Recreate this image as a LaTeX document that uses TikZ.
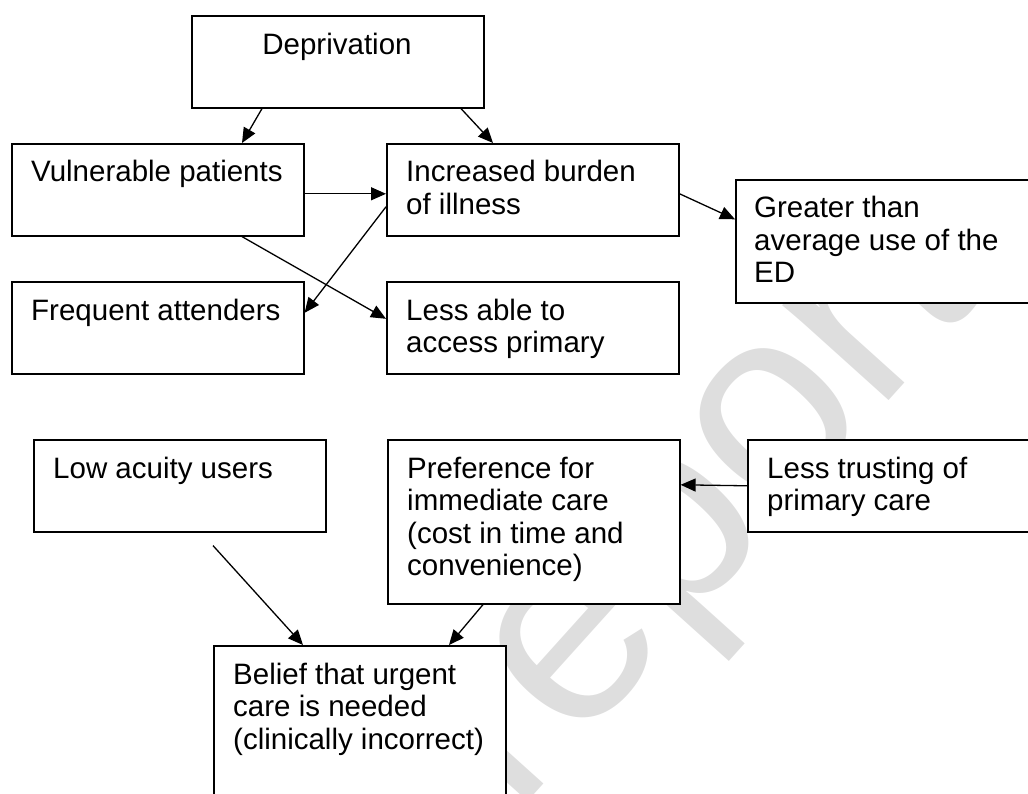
\documentclass[tikz,border=0pt]{standalone}
\usepackage{fontspec}
\setmainfont{Liberation Sans}
\usetikzlibrary{arrows.meta}
\newcommand{\boxlines}[1]{\begin{tabular}[t]{@{}l@{}}#1\end{tabular}}
\begin{document}
\begin{tikzpicture}[x=1pt,y=-1pt,
  box/.style={draw, line width=1.6pt, fill=white, rectangle, inner sep=0pt,
    minimum width=292pt, minimum height=92pt, anchor=north west},
  lbl/.style={anchor=base west, inner sep=0pt,
    font=\fontsize{29.5}{32.5}\selectfont},
  arr/.style={line width=1.3pt, -{Triangle[length=15pt,width=13pt]}},
  watermark/.style={anchor=base west, inner sep=0pt, text=black!13,
    font=\fontsize{270}{270}\selectfont, rotate=48}]
\useasboundingbox (0,0) rectangle (1028,794);
\begin{scope}
\clip (0,0) rectangle (1028,794);
\node[watermark] (wm) at (515,816) {report};
\node[box] (dep) at (191,15) {};
\node[box] (vul) at (11,143) {};
\node[box] (inc) at (386,143) {};
\node[box, minimum width=310pt, minimum height=123pt] (gre) at (735,179) {};
\node[box] (fre) at (11,281) {};
\node[box] (les) at (386,281) {};
\node[box] (low) at (33,439) {};
\node[box, minimum height=164pt] (pre) at (387,439) {};
\node[box, minimum width=310pt] (tru) at (747,439) {};
\node[box, minimum height=200pt] (bel) at (213,645) {};

\node[lbl, anchor=base] (tdep) at (337,55) {Deprivation};
\node[lbl] (tvul) at (31,182) {Vulnerable patients};
\node[lbl] (tinc) at (406,182) {\boxlines{Increased burden\\of illness}};
\node[lbl] (tgre) at (754,218) {\boxlines{Greater than\\average use of the\\ED}};
\node[lbl] (tfre) at (31,320) {Frequent attenders};
\node[lbl] (tles) at (406,320) {\boxlines{Less able to\\access primary}};
\node[lbl] (tlow) at (53,478) {Low acuity users};
\node[lbl] (tpre) at (407,478) {\boxlines{Preference for\\immediate care\\(cost in time and\\convenience)}};
\node[lbl] (ttru) at (767,478) {\boxlines{Less trusting of\\primary care}};
\node[lbl] (tbel) at (233,684) {\boxlines{Belief that urgent\\care is needed\\(clinically incorrect)}};

\coordinate (lowarr) at ([xshift=180pt,yshift=-13pt]low.south west);

\draw[arr] ([xshift=71pt]dep.south west) -- ([xshift=231pt]vul.north west);
\draw[arr] ([xshift=270pt]dep.south west) -- ([xshift=107pt]inc.north west);
\draw[arr] ([yshift=-4pt]vul.east) -- ([yshift=-4pt]inc.west);
\draw[arr] ([yshift=-17pt]inc.west) -- ([yshift=15pt]fre.east);
\draw[arr] ([xshift=231pt]vul.south west) -- ([yshift=9pt]les.west);
\draw[arr] ([yshift=-4pt]inc.east) -- ([yshift=22pt]gre.west);
\draw[arr] (tru.west) -- ([yshift=37pt]pre.east);
\draw[arr] (lowarr) -- ([xshift=90pt]bel.north west);
\draw[arr] ([xshift=96pt]pre.south west) -- ([xshift=236pt]bel.north west);
\end{scope}
\end{tikzpicture}
\end{document}
